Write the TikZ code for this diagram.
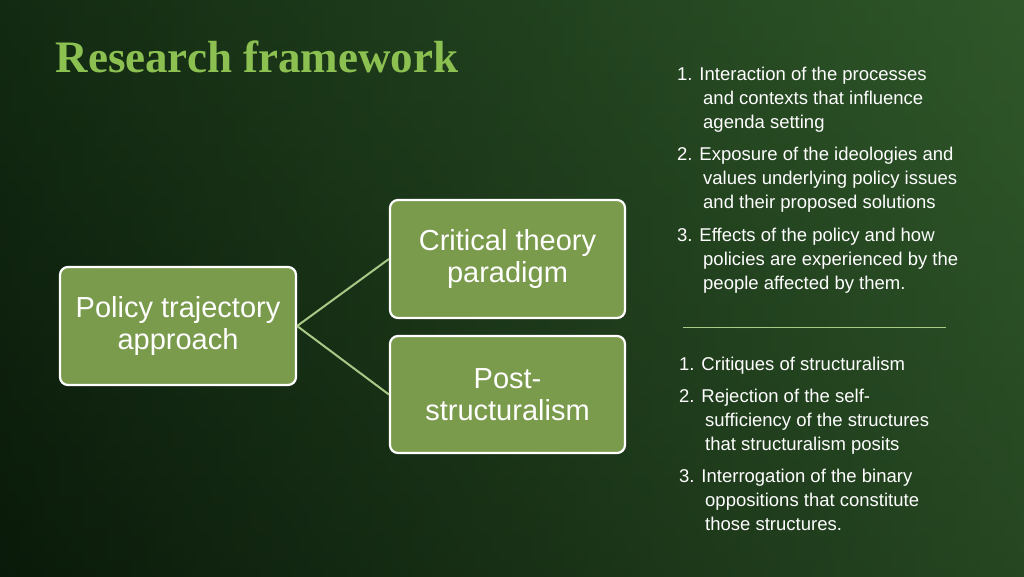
\documentclass[tikz,border=0pt]{standalone}
\usepackage{fontspec}
\setmainfont{Liberation Sans}
\newfontfamily\titlefont{Liberation Serif}
\begin{document}
\begin{tikzpicture}[x=1pt,y=-1pt,
  box/.style={draw=white,line width=2.2pt,rounded corners=8pt,fill=boxgreen,text=white,align=center,font=\fontsize{29}{32}\selectfont},
  conn/.style={draw=linkgreen,line width=2pt},
  item/.style={anchor=north west,text=white,align=left,font=\fontsize{18.5}{24}\selectfont,inner sep=0pt}]
\definecolor{boxgreen}{HTML}{7A9A4C}
\definecolor{linkgreen}{HTML}{A9C987}
\definecolor{titlegreen}{HTML}{8CC152}
\definecolor{bgdark}{HTML}{0A1A0A}
\definecolor{bgmid}{HTML}{1E3F1C}
\definecolor{bglight}{HTML}{3D6B35}
\shade[top color=bgmid,bottom color=bgdark] (0,0) rectangle (1024,576);
\shade[left color=bgdark,right color=bglight,opacity=0.55] (0,0) rectangle (1024,576);
\useasboundingbox (0,0) rectangle (1024,576);
\node[anchor=west,text=titlegreen,font=\titlefont\bfseries\fontsize{45}{48}\selectfont] (title) at (52,57) {Research framework};
\node[box,minimum width=236,minimum height=118] (policy) at (178,326) {Policy trajectory\\approach};
\node[box,minimum width=235,minimum height=118] (crit) at (507.5,259) {Critical theory\\paradigm};
\node[box,minimum width=235,minimum height=117] (post) at (507.5,394.5) {Post-\\structuralism};
\draw[conn] (policy.east) -- (crit.west);
\draw[conn] (policy.east) -- (post.west);
\node[item] (a1) at (677,67) {1. Interaction of the processes\\\hspace*{26pt}and contexts that influence\\\hspace*{26pt}agenda setting};
\node[item] (a2) at (677,147) {2. Exposure of the ideologies and\\\hspace*{26pt}values underlying policy issues\\\hspace*{26pt}and their proposed solutions};
\node[item] (a3) at (677,228) {3. Effects of the policy and how\\\hspace*{26pt}policies are experienced by the\\\hspace*{26pt}people affected by them.};
\coordinate (s1) at (683,327);
\coordinate (s2) at (946,327);
\draw[linkgreen,line width=1pt] (s1) -- (s2);
\node[item] (b1) at (679,357) {1. Critiques of structuralism};
\node[item] (b2) at (679,389) {2. Rejection of the self-\\\hspace*{26pt}sufficiency of the structures\\\hspace*{26pt}that structuralism posits};
\node[item] (b3) at (679,469) {3. Interrogation of the binary\\\hspace*{26pt}oppositions that constitute\\\hspace*{26pt}those structures.};
\end{tikzpicture}
\end{document}
